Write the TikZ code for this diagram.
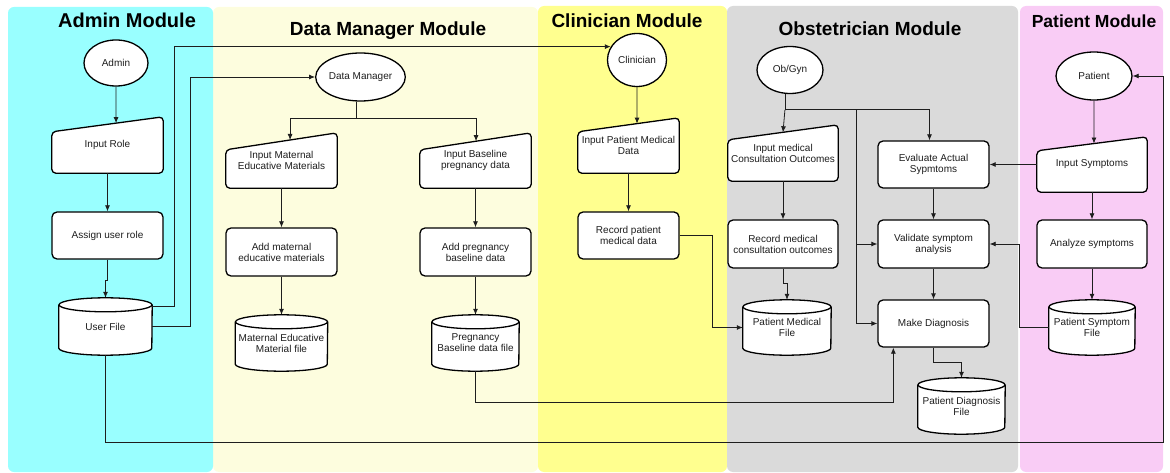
\documentclass[tikz,border=0pt]{standalone}
\usepackage{fontspec}
\setmainfont{Liberation Sans}
\usetikzlibrary{calc,arrows.meta,shapes.geometric}
\pgfdeclarelayer{bands}
\pgfdeclarelayer{shapes}
\pgfsetlayers{bands,shapes,main}

\definecolor{admincol}{RGB}{153,255,255}
\definecolor{dmcol}{RGB}{253,253,222}
\definecolor{cliniccol}{RGB}{255,255,143}
\definecolor{obcol}{RGB}{218,218,218}
\definecolor{patientcol}{RGB}{249,204,245}
\definecolor{ink}{RGB}{30,30,30}

\tikzset{
  txt/.style={font=\fontsize{10pt}{11pt}\selectfont, text=ink, align=center, inner sep=0pt},
  outline/.style={draw=black, line width=1.3pt},
  term/.style={txt, ellipse, outline, fill=white},
  proc/.style={txt, rectangle, rounded corners=5pt, outline, fill=white},
  wire/.style={draw=ink, line width=0.8pt},
  link/.style={wire, -{Latex[length=6pt,width=5pt]}},
  bandbox/.style={rounded corners=6pt, draw=none},
  lanetitle/.style={anchor=base, text=black, inner sep=0pt},
}

% manual-input shape: name, left, right, top, bottom, slope, text
\newcommand\maninput[7]{%
  \node[txt, minimum width={(#3-#2)*1pt}, minimum height={(#5-#4)*1pt}]
    (#1) at ({(#2+#3)/2},{(#4+#5)/2}) {#7};
  \coordinate (#1-tl) at ($(#1.north west)+(0,#6)$);
  \begin{pgfonlayer}{shapes}
    \draw[outline, fill=white, rounded corners=4pt]
      (#1.south west) -- (#1.south east) -- (#1.north east) -- (#1-tl) -- cycle;
  \end{pgfonlayer}}

% stored-data cylinder: name, left, right, top, bottom, text
\newcommand\dbfile[6]{%
  \node[txt, minimum width={(#3-#2)*1pt}, minimum height={(#5-#4)*1pt}]
    (#1) at ({(#2+#3)/2},{(#4+#5)/2}) {#6};
  \begin{pgfonlayer}{shapes}
    \filldraw[outline, fill=white]
      ($(#1.north west)+(0,7)$) -- ($(#1.south west)+(0,-7)$)
      arc[start angle=180, end angle=360, x radius={(#3-#2)/2*1pt}, y radius=7pt]
      -- ($(#1.north east)+(0,7)$);
    \filldraw[outline, fill=white]
      ($(#1.north)+(0,7)$) ellipse[x radius={(#3-#2)/2*1pt}, y radius=7pt];
  \end{pgfonlayer}}

\begin{document}
\begin{tikzpicture}[x=1pt, y=-1pt]
\useasboundingbox (0,0) rectangle (1170,473);

% swim lanes
\begin{pgfonlayer}{bands}
  \fill[bandbox, fill=dmcol]      (213,7) rectangle (538,472);
  \fill[bandbox, fill=cliniccol]  (538,6) rectangle (727,472);
  \fill[bandbox, fill=admincol]   (8,7) rectangle (213,472);
  \fill[bandbox, fill=obcol]      (727,6) rectangle (1018,472);
  \fill[bandbox, fill=patientcol] (1020,6) rectangle (1163,472);
\end{pgfonlayer}

\node[lanetitle, font=\fontsize{20pt}{22pt}\selectfont\bfseries] (tadmin) at (127,28) {Admin Module};
\node[lanetitle, font=\fontsize{19pt}{22pt}\selectfont\bfseries] (tdm) at (388,36) {Data Manager Module};
\node[lanetitle, font=\fontsize{19pt}{22pt}\selectfont\bfseries] (tclin) at (627,28) {Clinician Module};
\node[lanetitle, font=\fontsize{19pt}{22pt}\selectfont\bfseries] (tob) at (870,36) {Obstetrician Module};
\node[lanetitle, font=\fontsize{17.5pt}{22pt}\selectfont\bfseries] (tpat) at (1094,28) {Patient Module};

% Admin
\node[term, minimum width=64pt, minimum height=46pt] (admin) at (116,63) {Admin};
\maninput{inrole}{52}{163}{117}{173}{15}{Input Role}
\node[proc, minimum width=111pt, minimum height=47pt] (assign) at (107.5,235.5) {Assign user role};
\dbfile{userfile}{59}{152}{298}{355}{User File}

% Data Manager
\node[term, minimum width=81pt, minimum height=48pt] (dm) at (360.5,77) {Data Manager};
\maninput{inmat}{226}{337}{133}{188}{17}{Input Maternal\\Educative Materials}
\maninput{inbase}{420}{531}{133}{188}{17}{Input Baseline\\pregnancy data}
\node[proc, minimum width=111pt, minimum height=48pt] (addmat) at (281.5,252) {Add maternal\\educative materials};
\node[proc, minimum width=111pt, minimum height=48pt] (addbase) at (475.5,252) {Add pregnancy\\baseline data};
\dbfile{matfile}{235.5}{327.5}{315}{371}{Maternal Educative\\Material file}
\dbfile{basefile}{432}{519}{315}{371}{Pregnancy\\Baseline data file}

% Clinician
\node[term, minimum width=59pt, minimum height=53pt] (clin) at (637,60) {Clinician};
\maninput{inpmd}{578}{679}{118}{173}{14}{Input Patient Medical\\Data}
\node[proc, minimum width=101pt, minimum height=47pt] (recpmd) at (628.5,235.5) {Record patient\\medical data};

% Obstetrician
\node[term, minimum width=66pt, minimum height=47pt] (obgyn) at (790,70) {Ob/Gyn};
\maninput{inmco}{728}{838}{125}{181}{15}{Input medical\\Consultation Outcomes}
\node[proc, minimum width=110pt, minimum height=48pt] (recmco) at (783,244) {Record medical\\consultation outcomes};
\dbfile{pmf}{743}{831}{300}{355}{Patient Medical\\File}
\node[proc, minimum width=111pt, minimum height=47pt] (evals) at (933.5,164.5) {Evaluate Actual\\Sypmtoms};
\node[proc, minimum width=111pt, minimum height=48pt] (valid) at (933.5,244) {Validate symptom\\analysis};
\node[proc, minimum width=111pt, minimum height=47pt] (diag) at (933.5,323.5) {Make Diagnosis};
\dbfile{pdf}{918}{1005}{378}{434}{Patient Diagnosis\\File}

% Patient
\node[term, minimum width=76pt, minimum height=48pt] (patient) at (1094,76) {Patient};
\maninput{insym}{1037}{1147}{137}{192}{14}{Input Symptoms}
\node[proc, minimum width=110pt, minimum height=48pt] (analyze) at (1092,244) {Analyze symptoms};
\dbfile{psf}{1049}{1135}{300}{355}{Patient Symptom\\File}

% ---- connectors ----
% admin flow
\draw[link] (admin.south) -- ($(inrole-tl)!0.577!(inrole.north east)$);
\draw[link] (inrole.south) -- (assign.north);
\draw[link] (assign.south) -- ++(0,21) -| (userfile.north);
\draw[link] ($(userfile.east)+(0,-20)$) -- ++(22,0) |- (clin.153);
\draw[link] (userfile.east) -- ++(38,0) |- (dm.west);
\coordinate (rightrail) at (1163,76);
\draw[link] (userfile.south) -- ++(0,87) -| (rightrail) -- (patient.east);

% data manager flow
\draw[wire] (dm.-100) -- ++(0,16.4) coordinate (dmsplit);
\draw[link] (dmsplit) -| ($(inmat-tl)!0.577!(inmat.north east)$);
\draw[link] (dmsplit) -| ($(inbase-tl)!0.505!(inbase.north east)$);
\draw[link] (inmat.south) -- (addmat.north);
\draw[link] (addmat.south) -- (matfile.north);
\draw[link] (inbase.south) -- (addbase.north);
\draw[link] (addbase.south) -- (basefile.north);
\draw[link] (basefile.south) -- ++(0,31) -| ($(diag.south west)+(16,0)$);

% clinician flow
\draw[link] (clin.south) -- ($(inpmd-tl)!0.584!(inpmd.north east)$);
\draw[link] (inpmd.south) -- (recpmd.north);
\draw[link] (recpmd.east) -- ++(33,0) |- (pmf.west);

% obstetrician flow
\draw[wire] (obgyn.-102) -- ++(0,16) coordinate (objoin);
\path (objoin) -- ++(71,0) coordinate (obrail);
\draw[link] (objoin) -- ($(inmco-tl)!0.5!(inmco.north east)$);
\draw[link] (objoin) -| ($(evals.north)+(-4,0)$);
\draw[link] (obrail) |- (valid.west);
\draw[link] (obrail) |- (diag.west);
\draw[link] (inmco.south) -- (recmco.north);
\draw[link] (recmco.south) -- ++(0,15) -| (pmf.north);
\draw[link] (evals.south) -- (valid.north);
\draw[link] (valid.south) -- (diag.north);
\draw[link] (diag.south) -- ++(0,15) -| (pdf.north);

% patient flow
\draw[link] (patient.south) -- ($(insym-tl)!0.518!(insym.north east)$);
\draw[link] (insym.south) -- (analyze.north);
\draw[link] (analyze.south) -- (psf.north);
\draw[link] (insym.west) -- (evals.east);
\draw[link] (psf.west) -- ++(-29,0) |- (valid.east);
\end{tikzpicture}
\end{document}
